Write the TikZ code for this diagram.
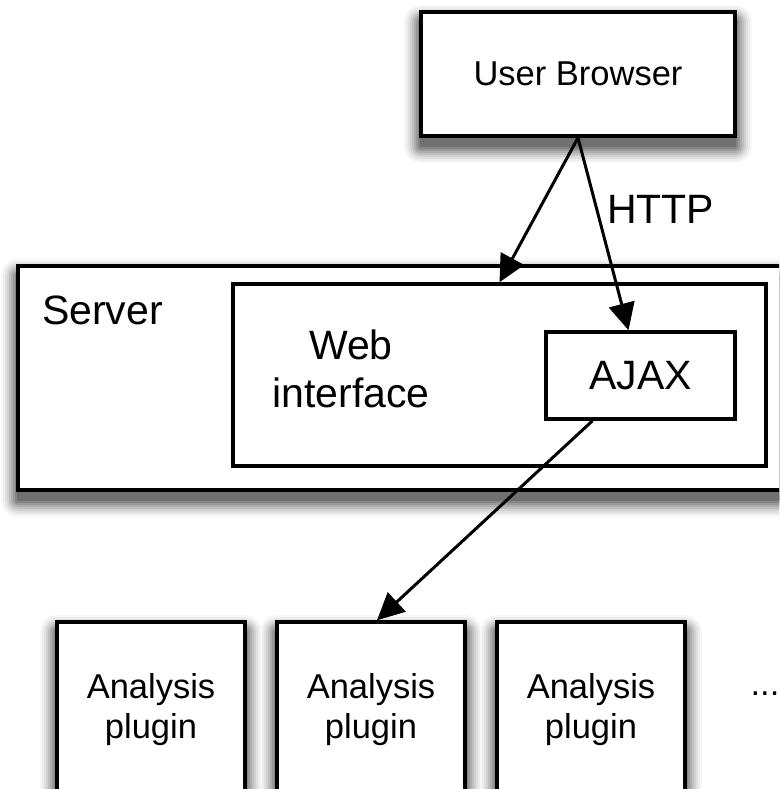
\documentclass[tikz,border=0pt]{standalone}
\usepackage{fontspec}
\setmainfont{Liberation Sans}
\usetikzlibrary{positioning}
\usetikzlibrary{arrows.meta}
\usetikzlibrary{calc}

\begin{document}
\begin{tikzpicture}[x=1pt, y=1pt,
	box/.style = {
		draw, line width=3.5pt, fill=white, align=center, inner sep=0pt,
		font=\fontsize{34.5}{40}\selectfont
	},
	% soft shadow made of stacked grey layers
	layer/.style 2 args = {
		preaction={draw=black!#1, fill=black!#1, line width=#2, line join=round,
			transform canvas={yshift=-10pt}}
	},
	shadowed/.style = {
		layer={3}{34pt}, layer={7}{30pt}, layer={12}{26pt}, layer={18}{22pt},
		layer={25}{18pt}, layer={32}{14pt}, layer={40}{10pt}, layer={48}{6pt},
		layer={56}{2pt}
	},
	big/.style = {font=\fontsize{41}{48}\selectfont},
	link/.style = {line width=3pt, -{Triangle[length=27pt, width=26pt]}}]
	\useasboundingbox (0,0) rectangle (779,-789);
	\clip (0,0) rectangle (779,-789);
	
	\node (browser) [box, shadowed, minimum width=314pt, minimum height=124pt]
	at (578,-74) {User Browser};
	
	\node (server) [box, shadowed, minimum width=792pt, minimum height=224pt]
	at (414,-378) {};
	\node (serverlbl) [big, anchor=west, inner sep=0pt] at (42,-310) {Server};
	
	\node (web) [box, minimum width=533pt, minimum height=182pt]
	at (499.5,-375) {};
	\node (webtxt) [big, align=center, inner sep=0pt] at (351,-369) {Web\\interface};
	\node (ajax) [box, big, minimum width=189pt, minimum height=87pt]
	at (640.5,-375.5) {AJAX};
	
	\node (plugin1) [box, shadowed, minimum width=188pt, minimum height=176pt]
	at (151,-710) {Analysis\\plugin};
	\node (plugin2) [box, shadowed, minimum width=188pt, minimum height=176pt,
	right = 28.5pt of plugin1] {Analysis\\plugin};
	\node (plugin3) [box, shadowed, minimum width=188pt, minimum height=176pt,
	right = 28.5pt of plugin2] {Analysis\\plugin};
	\node (more) [font=\fontsize{34.5}{40}\selectfont, inner sep=0pt]
	at (765,-694) {...};
	
	\path [link]
	(browser.south) edge (web.north)
	(browser.south) edge node[pos=.37, right, big, inner sep=9pt] {HTTP}
	([xshift=-12pt]ajax.north)
	([xshift=-48pt]ajax.south) edge ([xshift=6pt]plugin2.north);
\end{tikzpicture}
\end{document}
